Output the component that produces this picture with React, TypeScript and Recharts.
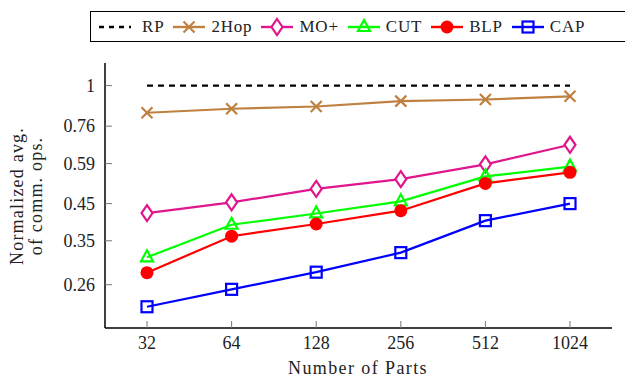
import { LineChart, Line, XAxis, YAxis } from 'recharts'

const parts = ['32', '64', '128', '256', '512', '1024']
const rp = [1, 1, 1, 1, 1, 1]
const twoHop = [0.832, 0.855, 0.868, 0.9, 0.91, 0.93]
const moPlus = [0.422, 0.454, 0.497, 0.531, 0.587, 0.67]
const cut = [0.313, 0.39, 0.421, 0.457, 0.541, 0.578]
const blp = [0.282, 0.361, 0.392, 0.429, 0.516, 0.556]
const cap = [0.224, 0.252, 0.283, 0.323, 0.401, 0.45]
const yTicks = [0.26, 0.35, 0.45, 0.59, 0.76, 1]

const FONT = "'Liberation Serif', 'Times New Roman', serif"

const series = [
  { key: 'RP', color: '#000000', mark: 'none', dash: '6 5' },
  { key: '2Hop', color: '#BF8040', mark: 'x' },
  { key: 'MO+', color: '#E0168C', mark: 'diamond' },
  { key: 'CUT', color: '#00FF00', mark: 'triangle' },
  { key: 'BLP', color: '#FF0000', mark: 'circle' },
  { key: 'CAP', color: '#0000FF', mark: 'square' },
]

const data = parts.map((p, i) => ({
  parts: p,
  RP: rp[i],
  '2Hop': twoHop[i],
  'MO+': moPlus[i],
  CUT: cut[i],
  BLP: blp[i],
  CAP: cap[i],
}))

function Marker({ mark, color, cx, cy }: { mark: string; color: string; cx: number; cy: number }) {
  const sw = 2.2
  if (mark === 'x')
    return (
      <g stroke={color} strokeWidth={sw}>
        <line x1={cx - 5.5} y1={cy - 5.5} x2={cx + 5.5} y2={cy + 5.5} />
        <line x1={cx - 5.5} y1={cy + 5.5} x2={cx + 5.5} y2={cy - 5.5} />
      </g>
    )
  if (mark === 'diamond')
    return (
      <polygon
        points={`${cx},${cy - 8} ${cx + 5.5},${cy} ${cx},${cy + 8} ${cx - 5.5},${cy}`}
        fill="#fff" stroke={color} strokeWidth={sw} />
    )
  if (mark === 'triangle')
    return (
      <polygon
        points={`${cx},${cy - 7} ${cx + 6},${cy + 4} ${cx - 6},${cy + 4}`}
        fill="none" stroke={color} strokeWidth={sw} />
    )
  if (mark === 'circle') return <circle cx={cx} cy={cy} r={6.5} fill={color} />
  if (mark === 'square')
    return <rect x={cx - 5.5} y={cy - 5.5} width={11} height={11} fill="none" stroke={color} strokeWidth={sw} />
  return null
}

const tickText = { fontFamily: FONT, fontSize: 18, fill: '#222' }

function LeftTick({ x, y, payload }: any) {
  return (
    <g>
      <line x1={x} x2={x + 7} y1={y} y2={y} stroke="#777" strokeWidth={1} />
      <text x={x - 10} y={y} dy={6} textAnchor="end" style={tickText}>{payload.value}</text>
    </g>
  )
}
function RightTick({ x, y }: any) {
  return <line x1={x - 7} x2={x} y1={y} y2={y} stroke="#777" strokeWidth={1} />
}
function BottomTick({ x, y, payload }: any) {
  return (
    <g>
      <line x1={x} x2={x} y1={y - 7} y2={y} stroke="#777" strokeWidth={1} />
      <text x={x} y={y + 21} textAnchor="middle" style={tickText}>{payload.value}</text>
    </g>
  )
}
function TopTick({ x, y }: any) {
  return <line x1={x} x2={x} y1={y} y2={y + 7} stroke="#777" strokeWidth={1} />
}

export default function App() {
  const axisLine = { stroke: '#000', strokeWidth: 1.5 }
  return (
    <div style={{ position: 'absolute', left: 0, top: 0, width: 625, height: 379, background: '#fff', fontFamily: FONT }}>
      <LineChart width={625} height={379} data={data} margin={{ top: 63, right: 13, bottom: 0, left: 0 }}>
        <XAxis dataKey="parts" height={51} padding={{ left: 42, right: 42 }} axisLine={axisLine}
          tickLine={false} tickSize={0} tickMargin={0} tick={<BottomTick />} interval={0} />
        <XAxis xAxisId="top" dataKey="parts" orientation="top" height={0} padding={{ left: 42, right: 42 }}
          axisLine={axisLine} tickLine={false} tickSize={0} tickMargin={0} tick={<TopTick />} interval={0} />
        <YAxis type="number" scale="log" domain={[0.194, 1.165]} allowDataOverflow ticks={yTicks}
          width={105} axisLine={axisLine} tickLine={false} tickSize={0} tickMargin={0} tick={<LeftTick />} interval={0} />
        <YAxis yAxisId="r" orientation="right" type="number" scale="log" domain={[0.194, 1.165]} allowDataOverflow
          ticks={yTicks} width={0} axisLine={axisLine} tickLine={false} tickSize={0} tickMargin={0}
          tick={<RightTick />} interval={0} />
        {series.map((s) => (
          <Line key={s.key} dataKey={s.key} stroke={s.color} strokeWidth={s.dash ? 2.4 : 2.2}
            strokeDasharray={s.dash} isAnimationActive={false} activeDot={false}
            dot={(p: any) => <Marker key={`${s.key}-${p.index}`} mark={s.mark} color={s.color} cx={p.cx} cy={p.cy} />} />
        ))}
      </LineChart>

      <div style={{ position: 'absolute', left: 0, top: 0, width: 625, height: 379, pointerEvents: 'none' }}>
        <div style={{
          position: 'absolute', left: 27, top: 196, transform: 'translate(-50%, -50%) rotate(-90deg)',
          whiteSpace: 'nowrap', textAlign: 'center', fontSize: 18, lineHeight: '19px', letterSpacing: 1.2, color: '#222',
        }}>
          Normalized avg.<br />of comm. ops.
        </div>
        <div style={{
          position: 'absolute', left: 358, top: 368, transform: 'translate(-50%, -50%)',
          whiteSpace: 'nowrap', fontSize: 18, lineHeight: '20px', letterSpacing: 1.4, color: '#222',
        }}>
          Number of Parts
        </div>
        <div style={{
          position: 'absolute', left: 90, top: 11, width: 529, height: 29, border: '1.5px solid #000',
          display: 'flex', alignItems: 'center', paddingLeft: 6, boxSizing: 'content-box',
        }}>
          {series.map((s) => (
            <div key={s.key} style={{ display: 'flex', alignItems: 'center', marginRight: 7 }}>
              <svg width={36} height={20} style={{ marginRight: s.dash ? 9 : 4 }}>
                <line x1={2} x2={34} y1={10} y2={10} stroke={s.color} strokeWidth={2.4}
                  strokeDasharray={s.dash ? '5 5' : undefined} />
                <Marker mark={s.mark} color={s.color} cx={18} cy={10} />
              </svg>
              <span style={{ fontSize: 17, letterSpacing: 0.8, color: '#222' }}>{s.key}</span>
            </div>
          ))}
        </div>
      </div>
    </div>
  )
}
